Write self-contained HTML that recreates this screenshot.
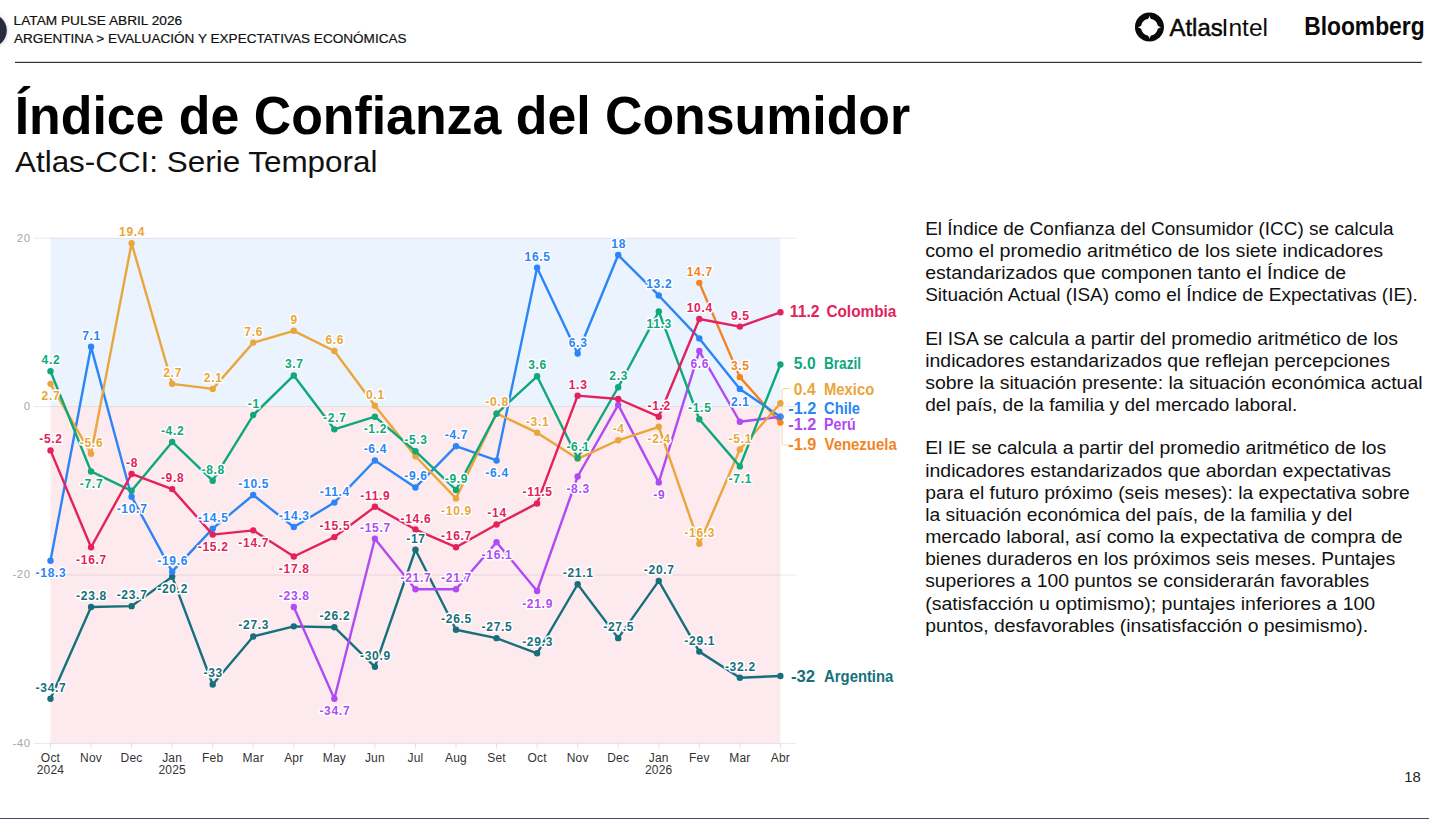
<!DOCTYPE html>
<html><head><meta charset="utf-8"><title>Índice de Confianza del Consumidor</title>
<style>
html,body{margin:0;padding:0;background:#fff;}
body{width:1429px;height:819px;overflow:hidden;position:relative;font-family:"Liberation Sans",sans-serif;}
svg{position:absolute;left:0;top:0;}
.lbl{font-family:"Liberation Sans",sans-serif;font-weight:700;font-size:12px;letter-spacing:0.7px;text-anchor:middle;paint-order:stroke;stroke:#fff;stroke-width:3px;stroke-linejoin:round;}
.ax{font-family:"Liberation Sans",sans-serif;font-size:11.5px;letter-spacing:0.6px;fill:#a9a9a9;text-anchor:end;}
.xt{font-family:"Liberation Sans",sans-serif;font-size:12px;letter-spacing:0.2px;fill:#333;text-anchor:middle;}
.lg{font-family:"Liberation Sans",sans-serif;font-weight:700;font-size:16px;}
.para{font-family:"Liberation Sans",sans-serif;font-size:17.5px;fill:#111;}
</style></head><body>
<svg width="1429" height="819" viewBox="0 0 1429 819">
<defs><filter id="sh" x="-50%" y="-50%" width="200%" height="200%"><feGaussianBlur stdDeviation="2"/></filter></defs>

<circle cx="-10.2" cy="31" r="17.5" fill="#000" opacity="0.16" filter="url(#sh)"/>
<circle cx="-10.2" cy="30.5" r="17" fill="#282b3e"/>
<text x="13.6" y="24.8" font-size="13.6" fill="#111" textLength="168.6" lengthAdjust="spacingAndGlyphs" stroke="#111" stroke-width="0.2">LATAM PULSE ABRIL 2026</text>
<text x="14.0" y="42.7" font-size="13.6" fill="#111" textLength="392.6" lengthAdjust="spacingAndGlyphs" stroke="#111" stroke-width="0.2">ARGENTINA &gt; EVALUACIÓN Y EXPECTATIVAS ECONÓMICAS</text>
<circle cx="1149.45" cy="27.0" r="14.5" fill="#0a0a0a"/>
<path transform="translate(1149.45,27.25)" d="M0,-11.6 Q0.45,-9.219999999999999 1.75,-8.27 A8.45,8.45 0 0 1 8.27,-1.75 Q9.219999999999999,-0.45 11.6,0 Q9.219999999999999,0.45 8.27,1.75 A8.45,8.45 0 0 1 1.75,8.27 Q0.45,9.219999999999999 0,11.6 Q-0.45,9.219999999999999 -1.75,8.27 A8.45,8.45 0 0 1 -8.27,1.75 Q-9.219999999999999,0.45 -11.6,0 Q-9.219999999999999,-0.45 -8.27,-1.75 A8.45,8.45 0 0 1 -1.75,-8.27 Q-0.45,-9.219999999999999 0,-11.6Z" fill="#fff"/>
<text x="1169.6" y="35.7" font-size="24.4" fill="#0a0a0a" textLength="53" lengthAdjust="spacingAndGlyphs" stroke="#0a0a0a" stroke-width="0.5">Atlas</text>
<text x="1221.6" y="35.7" font-size="24.4" fill="#0a0a0a" textLength="46.4" lengthAdjust="spacingAndGlyphs">Intel</text>
<text x="1304.2" y="35.4" font-size="25.3" fill="#0a0a0a" textLength="120.4" lengthAdjust="spacingAndGlyphs" style="font-weight:700">Bloomberg</text>
<rect x="15" y="61.8" width="1406.8" height="1.2" fill="#333"/>
<text x="14.7" y="133.8" font-size="54" fill="#000" textLength="895.5" lengthAdjust="spacingAndGlyphs" style="font-weight:700">Índice de Confianza del Consumidor</text>
<text x="15" y="171.7" font-size="30" fill="#111" textLength="362.4" lengthAdjust="spacingAndGlyphs">Atlas-CCI: Serie Temporal</text>
<rect x="50.5" y="238.20000000000002" width="729.9" height="168.4" fill="#ebf3fe"/>
<rect x="50.5" y="406.6" width="729.9" height="336.80000000000007" fill="#fdeaee"/>
<line x1="33.8" x2="796" y1="238.20" y2="238.20" stroke="#000" stroke-opacity="0.09" stroke-width="1"/>
<text class="ax" x="30.8" y="241.60">20</text>
<line x1="33.8" x2="796" y1="406.60" y2="406.60" stroke="#000" stroke-opacity="0.09" stroke-width="1"/>
<text class="ax" x="30.8" y="410.00">0</text>
<line x1="33.8" x2="796" y1="575.00" y2="575.00" stroke="#000" stroke-opacity="0.09" stroke-width="1"/>
<text class="ax" x="30.8" y="578.40">-20</text>
<line x1="33.8" x2="796" y1="743.40" y2="743.40" stroke="#000" stroke-opacity="0.09" stroke-width="1"/>
<text class="ax" x="30.8" y="746.80">-40</text>
<line x1="50.50" x2="50.50" y1="743.40" y2="748.40" stroke="#000" stroke-opacity="0.12" stroke-width="1"/>
<text class="xt" x="50.50" y="761.8">Oct</text>
<text class="xt" x="50.50" y="773.8">2024</text>
<line x1="91.05" x2="91.05" y1="743.40" y2="748.40" stroke="#000" stroke-opacity="0.12" stroke-width="1"/>
<text class="xt" x="91.05" y="761.8">Nov</text>
<line x1="131.60" x2="131.60" y1="743.40" y2="748.40" stroke="#000" stroke-opacity="0.12" stroke-width="1"/>
<text class="xt" x="131.60" y="761.8">Dec</text>
<line x1="172.15" x2="172.15" y1="743.40" y2="748.40" stroke="#000" stroke-opacity="0.12" stroke-width="1"/>
<text class="xt" x="172.15" y="761.8">Jan</text>
<text class="xt" x="172.15" y="773.8">2025</text>
<line x1="212.70" x2="212.70" y1="743.40" y2="748.40" stroke="#000" stroke-opacity="0.12" stroke-width="1"/>
<text class="xt" x="212.70" y="761.8">Feb</text>
<line x1="253.25" x2="253.25" y1="743.40" y2="748.40" stroke="#000" stroke-opacity="0.12" stroke-width="1"/>
<text class="xt" x="253.25" y="761.8">Mar</text>
<line x1="293.80" x2="293.80" y1="743.40" y2="748.40" stroke="#000" stroke-opacity="0.12" stroke-width="1"/>
<text class="xt" x="293.80" y="761.8">Apr</text>
<line x1="334.35" x2="334.35" y1="743.40" y2="748.40" stroke="#000" stroke-opacity="0.12" stroke-width="1"/>
<text class="xt" x="334.35" y="761.8">May</text>
<line x1="374.90" x2="374.90" y1="743.40" y2="748.40" stroke="#000" stroke-opacity="0.12" stroke-width="1"/>
<text class="xt" x="374.90" y="761.8">Jun</text>
<line x1="415.45" x2="415.45" y1="743.40" y2="748.40" stroke="#000" stroke-opacity="0.12" stroke-width="1"/>
<text class="xt" x="415.45" y="761.8">Jul</text>
<line x1="456.00" x2="456.00" y1="743.40" y2="748.40" stroke="#000" stroke-opacity="0.12" stroke-width="1"/>
<text class="xt" x="456.00" y="761.8">Aug</text>
<line x1="496.55" x2="496.55" y1="743.40" y2="748.40" stroke="#000" stroke-opacity="0.12" stroke-width="1"/>
<text class="xt" x="496.55" y="761.8">Set</text>
<line x1="537.10" x2="537.10" y1="743.40" y2="748.40" stroke="#000" stroke-opacity="0.12" stroke-width="1"/>
<text class="xt" x="537.10" y="761.8">Oct</text>
<line x1="577.65" x2="577.65" y1="743.40" y2="748.40" stroke="#000" stroke-opacity="0.12" stroke-width="1"/>
<text class="xt" x="577.65" y="761.8">Nov</text>
<line x1="618.20" x2="618.20" y1="743.40" y2="748.40" stroke="#000" stroke-opacity="0.12" stroke-width="1"/>
<text class="xt" x="618.20" y="761.8">Dec</text>
<line x1="658.75" x2="658.75" y1="743.40" y2="748.40" stroke="#000" stroke-opacity="0.12" stroke-width="1"/>
<text class="xt" x="658.75" y="761.8">Jan</text>
<text class="xt" x="658.75" y="773.8">2026</text>
<line x1="699.30" x2="699.30" y1="743.40" y2="748.40" stroke="#000" stroke-opacity="0.12" stroke-width="1"/>
<text class="xt" x="699.30" y="761.8">Fev</text>
<line x1="739.85" x2="739.85" y1="743.40" y2="748.40" stroke="#000" stroke-opacity="0.12" stroke-width="1"/>
<text class="xt" x="739.85" y="761.8">Mar</text>
<line x1="780.40" x2="780.40" y1="743.40" y2="748.40" stroke="#000" stroke-opacity="0.12" stroke-width="1"/>
<text class="xt" x="780.40" y="761.8">Abr</text>
<path d="M50.50,698.77 L91.05,607.00 L131.60,606.15 L172.15,576.68 L212.70,684.46 L253.25,636.47 L293.80,626.36 L334.35,627.20 L374.90,666.78 L415.45,549.74 L456.00,629.73 L496.55,638.15 L537.10,653.31 L577.65,584.26 L618.20,638.15 L658.75,580.89 L699.30,651.62 L739.85,677.72 L780.40,676.04" fill="none" stroke="#16707c" stroke-width="2.4" stroke-linejoin="round" stroke-linecap="round"/>
<circle cx="50.50" cy="698.77" r="3.2" fill="#16707c"/>
<circle cx="91.05" cy="607.00" r="3.2" fill="#16707c"/>
<circle cx="131.60" cy="606.15" r="3.2" fill="#16707c"/>
<circle cx="172.15" cy="576.68" r="3.2" fill="#16707c"/>
<circle cx="212.70" cy="684.46" r="3.2" fill="#16707c"/>
<circle cx="253.25" cy="636.47" r="3.2" fill="#16707c"/>
<circle cx="293.80" cy="626.36" r="3.2" fill="#16707c"/>
<circle cx="334.35" cy="627.20" r="3.2" fill="#16707c"/>
<circle cx="374.90" cy="666.78" r="3.2" fill="#16707c"/>
<circle cx="415.45" cy="549.74" r="3.2" fill="#16707c"/>
<circle cx="456.00" cy="629.73" r="3.2" fill="#16707c"/>
<circle cx="496.55" cy="638.15" r="3.2" fill="#16707c"/>
<circle cx="537.10" cy="653.31" r="3.2" fill="#16707c"/>
<circle cx="577.65" cy="584.26" r="3.2" fill="#16707c"/>
<circle cx="618.20" cy="638.15" r="3.2" fill="#16707c"/>
<circle cx="658.75" cy="580.89" r="3.2" fill="#16707c"/>
<circle cx="699.30" cy="651.62" r="3.2" fill="#16707c"/>
<circle cx="739.85" cy="677.72" r="3.2" fill="#16707c"/>
<circle cx="780.40" cy="676.04" r="3.2" fill="#16707c"/>
<path d="M699.30,282.83 L739.85,377.13 L780.40,422.60" fill="none" stroke="#f3841f" stroke-width="2.4" stroke-linejoin="round" stroke-linecap="round"/>
<circle cx="699.30" cy="282.83" r="3.2" fill="#f3841f"/>
<circle cx="739.85" cy="377.13" r="3.2" fill="#f3841f"/>
<circle cx="780.40" cy="422.60" r="3.2" fill="#f3841f"/>
<path d="M293.80,607.00 L334.35,698.77 L374.90,538.79 L415.45,589.31 L456.00,589.31 L496.55,542.16 L537.10,591.00 L577.65,476.49 L618.20,404.92 L658.75,482.38 L699.30,351.03 L739.85,421.76 L780.40,416.70" fill="none" stroke="#b04af3" stroke-width="2.4" stroke-linejoin="round" stroke-linecap="round"/>
<circle cx="293.80" cy="607.00" r="3.2" fill="#b04af3"/>
<circle cx="334.35" cy="698.77" r="3.2" fill="#b04af3"/>
<circle cx="374.90" cy="538.79" r="3.2" fill="#b04af3"/>
<circle cx="415.45" cy="589.31" r="3.2" fill="#b04af3"/>
<circle cx="456.00" cy="589.31" r="3.2" fill="#b04af3"/>
<circle cx="496.55" cy="542.16" r="3.2" fill="#b04af3"/>
<circle cx="537.10" cy="591.00" r="3.2" fill="#b04af3"/>
<circle cx="577.65" cy="476.49" r="3.2" fill="#b04af3"/>
<circle cx="618.20" cy="404.92" r="3.2" fill="#b04af3"/>
<circle cx="658.75" cy="482.38" r="3.2" fill="#b04af3"/>
<circle cx="699.30" cy="351.03" r="3.2" fill="#b04af3"/>
<circle cx="739.85" cy="421.76" r="3.2" fill="#b04af3"/>
<circle cx="780.40" cy="416.70" r="3.2" fill="#b04af3"/>
<path d="M50.50,560.69 L91.05,346.82 L131.60,496.69 L172.15,571.63 L212.70,528.69 L253.25,495.01 L293.80,527.01 L334.35,502.59 L374.90,460.49 L415.45,487.43 L456.00,446.17 L496.55,460.49 L537.10,267.67 L577.65,353.55 L618.20,255.04 L658.75,295.46 L699.30,338.40 L739.85,388.92 L780.40,416.70" fill="none" stroke="#2b85f6" stroke-width="2.4" stroke-linejoin="round" stroke-linecap="round"/>
<circle cx="50.50" cy="560.69" r="3.2" fill="#2b85f6"/>
<circle cx="91.05" cy="346.82" r="3.2" fill="#2b85f6"/>
<circle cx="131.60" cy="496.69" r="3.2" fill="#2b85f6"/>
<circle cx="172.15" cy="571.63" r="3.2" fill="#2b85f6"/>
<circle cx="212.70" cy="528.69" r="3.2" fill="#2b85f6"/>
<circle cx="253.25" cy="495.01" r="3.2" fill="#2b85f6"/>
<circle cx="293.80" cy="527.01" r="3.2" fill="#2b85f6"/>
<circle cx="334.35" cy="502.59" r="3.2" fill="#2b85f6"/>
<circle cx="374.90" cy="460.49" r="3.2" fill="#2b85f6"/>
<circle cx="415.45" cy="487.43" r="3.2" fill="#2b85f6"/>
<circle cx="456.00" cy="446.17" r="3.2" fill="#2b85f6"/>
<circle cx="496.55" cy="460.49" r="3.2" fill="#2b85f6"/>
<circle cx="537.10" cy="267.67" r="3.2" fill="#2b85f6"/>
<circle cx="577.65" cy="353.55" r="3.2" fill="#2b85f6"/>
<circle cx="618.20" cy="255.04" r="3.2" fill="#2b85f6"/>
<circle cx="658.75" cy="295.46" r="3.2" fill="#2b85f6"/>
<circle cx="699.30" cy="338.40" r="3.2" fill="#2b85f6"/>
<circle cx="739.85" cy="388.92" r="3.2" fill="#2b85f6"/>
<circle cx="780.40" cy="416.70" r="3.2" fill="#2b85f6"/>
<path d="M50.50,383.87 L91.05,453.75 L131.60,243.25 L172.15,383.87 L212.70,388.92 L253.25,342.61 L293.80,330.82 L334.35,351.03 L374.90,405.76 L415.45,456.28 L456.00,498.38 L496.55,413.34 L537.10,432.70 L577.65,458.80 L618.20,440.28 L658.75,426.81 L699.30,543.85 L739.85,449.54 L780.40,403.23" fill="none" stroke="#eaa63a" stroke-width="2.4" stroke-linejoin="round" stroke-linecap="round"/>
<circle cx="50.50" cy="383.87" r="3.2" fill="#eaa63a"/>
<circle cx="91.05" cy="453.75" r="3.2" fill="#eaa63a"/>
<circle cx="131.60" cy="243.25" r="3.2" fill="#eaa63a"/>
<circle cx="172.15" cy="383.87" r="3.2" fill="#eaa63a"/>
<circle cx="212.70" cy="388.92" r="3.2" fill="#eaa63a"/>
<circle cx="253.25" cy="342.61" r="3.2" fill="#eaa63a"/>
<circle cx="293.80" cy="330.82" r="3.2" fill="#eaa63a"/>
<circle cx="334.35" cy="351.03" r="3.2" fill="#eaa63a"/>
<circle cx="374.90" cy="405.76" r="3.2" fill="#eaa63a"/>
<circle cx="415.45" cy="456.28" r="3.2" fill="#eaa63a"/>
<circle cx="456.00" cy="498.38" r="3.2" fill="#eaa63a"/>
<circle cx="496.55" cy="413.34" r="3.2" fill="#eaa63a"/>
<circle cx="537.10" cy="432.70" r="3.2" fill="#eaa63a"/>
<circle cx="577.65" cy="458.80" r="3.2" fill="#eaa63a"/>
<circle cx="618.20" cy="440.28" r="3.2" fill="#eaa63a"/>
<circle cx="658.75" cy="426.81" r="3.2" fill="#eaa63a"/>
<circle cx="699.30" cy="543.85" r="3.2" fill="#eaa63a"/>
<circle cx="739.85" cy="449.54" r="3.2" fill="#eaa63a"/>
<circle cx="780.40" cy="403.23" r="3.2" fill="#eaa63a"/>
<path d="M50.50,371.24 L91.05,471.43 L131.60,490.80 L172.15,441.96 L212.70,480.70 L253.25,415.02 L293.80,375.45 L334.35,429.33 L374.90,416.70 L415.45,451.23 L456.00,489.96 L496.55,413.76 L537.10,376.29 L577.65,457.96 L618.20,387.23 L658.75,311.45 L699.30,419.23 L739.85,466.38 L780.40,364.50" fill="none" stroke="#0ea87b" stroke-width="2.4" stroke-linejoin="round" stroke-linecap="round"/>
<circle cx="50.50" cy="371.24" r="3.2" fill="#0ea87b"/>
<circle cx="91.05" cy="471.43" r="3.2" fill="#0ea87b"/>
<circle cx="131.60" cy="490.80" r="3.2" fill="#0ea87b"/>
<circle cx="172.15" cy="441.96" r="3.2" fill="#0ea87b"/>
<circle cx="212.70" cy="480.70" r="3.2" fill="#0ea87b"/>
<circle cx="253.25" cy="415.02" r="3.2" fill="#0ea87b"/>
<circle cx="293.80" cy="375.45" r="3.2" fill="#0ea87b"/>
<circle cx="334.35" cy="429.33" r="3.2" fill="#0ea87b"/>
<circle cx="374.90" cy="416.70" r="3.2" fill="#0ea87b"/>
<circle cx="415.45" cy="451.23" r="3.2" fill="#0ea87b"/>
<circle cx="456.00" cy="489.96" r="3.2" fill="#0ea87b"/>
<circle cx="496.55" cy="413.76" r="3.2" fill="#0ea87b"/>
<circle cx="537.10" cy="376.29" r="3.2" fill="#0ea87b"/>
<circle cx="577.65" cy="457.96" r="3.2" fill="#0ea87b"/>
<circle cx="618.20" cy="387.23" r="3.2" fill="#0ea87b"/>
<circle cx="658.75" cy="311.45" r="3.2" fill="#0ea87b"/>
<circle cx="699.30" cy="419.23" r="3.2" fill="#0ea87b"/>
<circle cx="739.85" cy="466.38" r="3.2" fill="#0ea87b"/>
<circle cx="780.40" cy="364.50" r="3.2" fill="#0ea87b"/>
<path d="M50.50,450.38 L91.05,547.21 L131.60,473.96 L172.15,489.12 L212.70,534.58 L253.25,530.37 L293.80,556.48 L334.35,537.11 L374.90,506.80 L415.45,529.53 L456.00,547.21 L496.55,524.48 L537.10,503.43 L577.65,395.65 L618.20,399.02 L658.75,416.70 L699.30,319.03 L739.85,326.61 L780.40,312.30" fill="none" stroke="#e3215c" stroke-width="2.4" stroke-linejoin="round" stroke-linecap="round"/>
<circle cx="50.50" cy="450.38" r="3.2" fill="#e3215c"/>
<circle cx="91.05" cy="547.21" r="3.2" fill="#e3215c"/>
<circle cx="131.60" cy="473.96" r="3.2" fill="#e3215c"/>
<circle cx="172.15" cy="489.12" r="3.2" fill="#e3215c"/>
<circle cx="212.70" cy="534.58" r="3.2" fill="#e3215c"/>
<circle cx="253.25" cy="530.37" r="3.2" fill="#e3215c"/>
<circle cx="293.80" cy="556.48" r="3.2" fill="#e3215c"/>
<circle cx="334.35" cy="537.11" r="3.2" fill="#e3215c"/>
<circle cx="374.90" cy="506.80" r="3.2" fill="#e3215c"/>
<circle cx="415.45" cy="529.53" r="3.2" fill="#e3215c"/>
<circle cx="456.00" cy="547.21" r="3.2" fill="#e3215c"/>
<circle cx="496.55" cy="524.48" r="3.2" fill="#e3215c"/>
<circle cx="537.10" cy="503.43" r="3.2" fill="#e3215c"/>
<circle cx="577.65" cy="395.65" r="3.2" fill="#e3215c"/>
<circle cx="618.20" cy="399.02" r="3.2" fill="#e3215c"/>
<circle cx="658.75" cy="416.70" r="3.2" fill="#e3215c"/>
<circle cx="699.30" cy="319.03" r="3.2" fill="#e3215c"/>
<circle cx="739.85" cy="326.61" r="3.2" fill="#e3215c"/>
<circle cx="780.40" cy="312.30" r="3.2" fill="#e3215c"/>
<text class="lbl" x="51.00" y="443.38" fill="#e3215c">-5.2</text>
<text class="lbl" x="91.55" y="563.81" fill="#e3215c">-16.7</text>
<text class="lbl" x="132.10" y="466.96" fill="#e3215c">-8</text>
<text class="lbl" x="172.65" y="482.12" fill="#e3215c">-9.8</text>
<text class="lbl" x="213.20" y="551.18" fill="#e3215c">-15.2</text>
<text class="lbl" x="253.75" y="546.97" fill="#e3215c">-14.7</text>
<text class="lbl" x="294.30" y="573.08" fill="#e3215c">-17.8</text>
<text class="lbl" x="334.85" y="530.11" fill="#e3215c">-15.5</text>
<text class="lbl" x="375.40" y="499.80" fill="#e3215c">-11.9</text>
<text class="lbl" x="415.95" y="522.53" fill="#e3215c">-14.6</text>
<text class="lbl" x="456.50" y="540.21" fill="#e3215c">-16.7</text>
<text class="lbl" x="497.05" y="517.48" fill="#e3215c">-14</text>
<text class="lbl" x="537.60" y="496.43" fill="#e3215c">-11.5</text>
<text class="lbl" x="578.15" y="388.65" fill="#e3215c">1.3</text>
<text class="lbl" x="659.25" y="409.70" fill="#e3215c">-1.2</text>
<text class="lbl" x="699.80" y="312.03" fill="#e3215c">10.4</text>
<text class="lbl" x="740.35" y="319.61" fill="#e3215c">9.5</text>
<text class="lbl" x="51.00" y="364.24" fill="#0ea87b">4.2</text>
<text class="lbl" x="91.55" y="488.03" fill="#0ea87b">-7.7</text>
<text class="lbl" x="172.65" y="434.96" fill="#0ea87b">-4.2</text>
<text class="lbl" x="213.20" y="473.70" fill="#0ea87b">-8.8</text>
<text class="lbl" x="253.75" y="408.02" fill="#0ea87b">-1</text>
<text class="lbl" x="294.30" y="368.45" fill="#0ea87b">3.7</text>
<text class="lbl" x="334.85" y="422.33" fill="#0ea87b">-2.7</text>
<text class="lbl" x="375.40" y="433.30" fill="#0ea87b">-1.2</text>
<text class="lbl" x="415.95" y="444.23" fill="#0ea87b">-5.3</text>
<text class="lbl" x="456.50" y="482.96" fill="#0ea87b">-9.9</text>
<text class="lbl" x="537.60" y="369.29" fill="#0ea87b">3.6</text>
<text class="lbl" x="578.15" y="450.96" fill="#0ea87b">-6.1</text>
<text class="lbl" x="618.70" y="380.23" fill="#0ea87b">2.3</text>
<text class="lbl" x="659.25" y="328.05" fill="#0ea87b">11.3</text>
<text class="lbl" x="699.80" y="412.23" fill="#0ea87b">-1.5</text>
<text class="lbl" x="740.35" y="482.98" fill="#0ea87b">-7.1</text>
<text class="lbl" x="51.00" y="400.47" fill="#eaa63a">2.7</text>
<text class="lbl" x="91.55" y="446.75" fill="#eaa63a">-5.6</text>
<text class="lbl" x="132.10" y="236.25" fill="#eaa63a">19.4</text>
<text class="lbl" x="172.65" y="376.87" fill="#eaa63a">2.7</text>
<text class="lbl" x="213.20" y="381.92" fill="#eaa63a">2.1</text>
<text class="lbl" x="253.75" y="335.61" fill="#eaa63a">7.6</text>
<text class="lbl" x="294.30" y="323.82" fill="#eaa63a">9</text>
<text class="lbl" x="334.85" y="344.03" fill="#eaa63a">6.6</text>
<text class="lbl" x="375.40" y="398.76" fill="#eaa63a">0.1</text>
<text class="lbl" x="456.50" y="514.98" fill="#eaa63a">-10.9</text>
<text class="lbl" x="497.05" y="406.34" fill="#eaa63a">-0.8</text>
<text class="lbl" x="537.60" y="425.70" fill="#eaa63a">-3.1</text>
<text class="lbl" x="618.70" y="433.28" fill="#eaa63a">-4</text>
<text class="lbl" x="659.25" y="443.41" fill="#eaa63a">-2.4</text>
<text class="lbl" x="699.80" y="536.85" fill="#eaa63a">-16.3</text>
<text class="lbl" x="740.35" y="442.54" fill="#eaa63a">-5.1</text>
<text class="lbl" x="51.00" y="577.29" fill="#2b85f6">-18.3</text>
<text class="lbl" x="91.55" y="339.82" fill="#2b85f6">7.1</text>
<text class="lbl" x="132.10" y="513.29" fill="#2b85f6">-10.7</text>
<text class="lbl" x="172.65" y="564.63" fill="#2b85f6">-19.6</text>
<text class="lbl" x="213.20" y="521.69" fill="#2b85f6">-14.5</text>
<text class="lbl" x="253.75" y="488.01" fill="#2b85f6">-10.5</text>
<text class="lbl" x="294.30" y="520.01" fill="#2b85f6">-14.3</text>
<text class="lbl" x="334.85" y="495.59" fill="#2b85f6">-11.4</text>
<text class="lbl" x="375.40" y="453.49" fill="#2b85f6">-6.4</text>
<text class="lbl" x="415.95" y="480.43" fill="#2b85f6">-9.6</text>
<text class="lbl" x="456.50" y="439.17" fill="#2b85f6">-4.7</text>
<text class="lbl" x="497.05" y="477.09" fill="#2b85f6">-6.4</text>
<text class="lbl" x="537.60" y="260.67" fill="#2b85f6">16.5</text>
<text class="lbl" x="578.15" y="346.55" fill="#2b85f6">6.3</text>
<text class="lbl" x="618.70" y="248.04" fill="#2b85f6">18</text>
<text class="lbl" x="659.25" y="288.46" fill="#2b85f6">13.2</text>
<text class="lbl" x="740.35" y="405.52" fill="#2b85f6">2.1</text>
<text class="lbl" x="294.30" y="600.00" fill="#b04af3">-23.8</text>
<text class="lbl" x="334.85" y="715.37" fill="#b04af3">-34.7</text>
<text class="lbl" x="375.40" y="531.79" fill="#b04af3">-15.7</text>
<text class="lbl" x="415.95" y="582.31" fill="#b04af3">-21.7</text>
<text class="lbl" x="456.50" y="582.31" fill="#b04af3">-21.7</text>
<text class="lbl" x="497.05" y="558.76" fill="#b04af3">-16.1</text>
<text class="lbl" x="537.60" y="607.60" fill="#b04af3">-21.9</text>
<text class="lbl" x="578.15" y="493.09" fill="#b04af3">-8.3</text>
<text class="lbl" x="659.25" y="498.98" fill="#b04af3">-9</text>
<text class="lbl" x="699.80" y="367.63" fill="#b04af3">6.6</text>
<text class="lbl" x="699.80" y="275.83" fill="#f3841f">14.7</text>
<text class="lbl" x="740.35" y="370.13" fill="#f3841f">3.5</text>
<text class="lbl" x="51.00" y="691.77" fill="#16707c">-34.7</text>
<text class="lbl" x="91.55" y="600.00" fill="#16707c">-23.8</text>
<text class="lbl" x="132.10" y="599.15" fill="#16707c">-23.7</text>
<text class="lbl" x="172.65" y="593.28" fill="#16707c">-20.2</text>
<text class="lbl" x="213.20" y="677.46" fill="#16707c">-33</text>
<text class="lbl" x="253.75" y="629.47" fill="#16707c">-27.3</text>
<text class="lbl" x="334.85" y="620.20" fill="#16707c">-26.2</text>
<text class="lbl" x="375.40" y="659.78" fill="#16707c">-30.9</text>
<text class="lbl" x="415.95" y="542.74" fill="#16707c">-17</text>
<text class="lbl" x="456.50" y="622.73" fill="#16707c">-26.5</text>
<text class="lbl" x="497.05" y="631.15" fill="#16707c">-27.5</text>
<text class="lbl" x="537.60" y="646.31" fill="#16707c">-29.3</text>
<text class="lbl" x="578.15" y="577.26" fill="#16707c">-21.1</text>
<text class="lbl" x="618.70" y="631.15" fill="#16707c">-27.5</text>
<text class="lbl" x="659.25" y="573.89" fill="#16707c">-20.7</text>
<text class="lbl" x="699.80" y="644.62" fill="#16707c">-29.1</text>
<text class="lbl" x="740.35" y="670.72" fill="#16707c">-32.2</text>
<path d="M790,388.5 L784,388.5 Q782,388.5 782,390.5 L782,443 Q782,445 784,445 L790,445" fill="none" stroke="#eaa63a" stroke-opacity="0.45" stroke-width="1"/>
<text class="lg" x="789.8" y="316.9" fill="#e3215c" textLength="29.8" lengthAdjust="spacingAndGlyphs">11.2</text>
<text class="lg" x="826.4" y="316.9" fill="#e3215c" textLength="70.0" lengthAdjust="spacingAndGlyphs">Colombia</text>
<text class="lg" x="793.85" y="369.0" fill="#0ea87b" textLength="21.8" lengthAdjust="spacingAndGlyphs">5.0</text>
<text class="lg" x="824" y="369.0" fill="#0ea87b" textLength="37.0" lengthAdjust="spacingAndGlyphs">Brazil</text>
<text class="lg" x="793.85" y="394.6" fill="#eaa63a" textLength="21.8" lengthAdjust="spacingAndGlyphs">0.4</text>
<text class="lg" x="824" y="394.6" fill="#eaa63a" textLength="50.3" lengthAdjust="spacingAndGlyphs">Mexico</text>
<text class="lg" x="788.25" y="414.1" fill="#2b85f6" textLength="28.1" lengthAdjust="spacingAndGlyphs">-1.2</text>
<text class="lg" x="824.1" y="414.1" fill="#2b85f6" textLength="35.9" lengthAdjust="spacingAndGlyphs">Chile</text>
<text class="lg" x="788.25" y="429.5" fill="#b04af3" textLength="28.1" lengthAdjust="spacingAndGlyphs">-1.2</text>
<text class="lg" x="824.1" y="429.5" fill="#b04af3" textLength="31.6" lengthAdjust="spacingAndGlyphs">Perú</text>
<text class="lg" x="788.25" y="449.5" fill="#f3841f" textLength="28.1" lengthAdjust="spacingAndGlyphs">-1.9</text>
<text class="lg" x="824.5" y="449.5" fill="#f3841f" textLength="72.2" lengthAdjust="spacingAndGlyphs">Venezuela</text>
<text class="lg" x="790.9" y="682.3" fill="#16707c" textLength="24.1" lengthAdjust="spacingAndGlyphs">-32</text>
<text class="lg" x="824.1" y="682.3" fill="#16707c" textLength="69.2" lengthAdjust="spacingAndGlyphs">Argentina</text>
<text class="para" x="925.2" y="234.85" textLength="468.3" lengthAdjust="spacingAndGlyphs">El Índice de Confianza del Consumidor (ICC) se calcula</text>
<text class="para" x="925.2" y="256.83" textLength="458.0" lengthAdjust="spacingAndGlyphs">como el promedio aritmético de los siete indicadores</text>
<text class="para" x="925.2" y="278.81" textLength="421.0" lengthAdjust="spacingAndGlyphs">estandarizados que componen tanto el Índice de</text>
<text class="para" x="925.2" y="300.79" textLength="492.6" lengthAdjust="spacingAndGlyphs">Situación Actual (ISA) como el Índice de Expectativas (IE).</text>
<text class="para" x="925.2" y="344.70" textLength="472.7" lengthAdjust="spacingAndGlyphs">El ISA se calcula a partir del promedio aritmético de los</text>
<text class="para" x="925.2" y="366.73" textLength="464.7" lengthAdjust="spacingAndGlyphs">indicadores estandarizados que reflejan percepciones</text>
<text class="para" x="925.2" y="388.76" textLength="497.4" lengthAdjust="spacingAndGlyphs">sobre la situación presente: la situación económica actual</text>
<text class="para" x="925.2" y="410.79" textLength="372.0" lengthAdjust="spacingAndGlyphs">del país, de la familia y del mercado laboral.</text>
<text class="para" x="925.2" y="454.45" textLength="461.0" lengthAdjust="spacingAndGlyphs">El IE se calcula a partir del promedio aritmético de los</text>
<text class="para" x="925.2" y="476.62" textLength="465.7" lengthAdjust="spacingAndGlyphs">indicadores estandarizados que abordan expectativas</text>
<text class="para" x="925.2" y="498.79" textLength="484.6" lengthAdjust="spacingAndGlyphs">para el futuro próximo (seis meses): la expectativa sobre</text>
<text class="para" x="925.2" y="520.96" textLength="427.0" lengthAdjust="spacingAndGlyphs">la situación económica del país, de la familia y del</text>
<text class="para" x="925.2" y="543.13" textLength="477.4" lengthAdjust="spacingAndGlyphs">mercado laboral, así como la expectativa de compra de</text>
<text class="para" x="925.2" y="565.30" textLength="470.0" lengthAdjust="spacingAndGlyphs">bienes duraderos en los próximos seis meses. Puntajes</text>
<text class="para" x="925.2" y="587.47" textLength="444.0" lengthAdjust="spacingAndGlyphs">superiores a 100 puntos se considerarán favorables</text>
<text class="para" x="925.2" y="609.64" textLength="450.0" lengthAdjust="spacingAndGlyphs">(satisfacción u optimismo); puntajes inferiores a 100</text>
<text class="para" x="925.2" y="631.81" textLength="442.9" lengthAdjust="spacingAndGlyphs">puntos, desfavorables (insatisfacción o pesimismo).</text>
<text x="1404.3" y="782" font-size="14.5" fill="#222" textLength="16.5" lengthAdjust="spacingAndGlyphs">18</text>
<rect x="0" y="818" width="1429" height="1" fill="#484b65"/>
</svg></body></html>
